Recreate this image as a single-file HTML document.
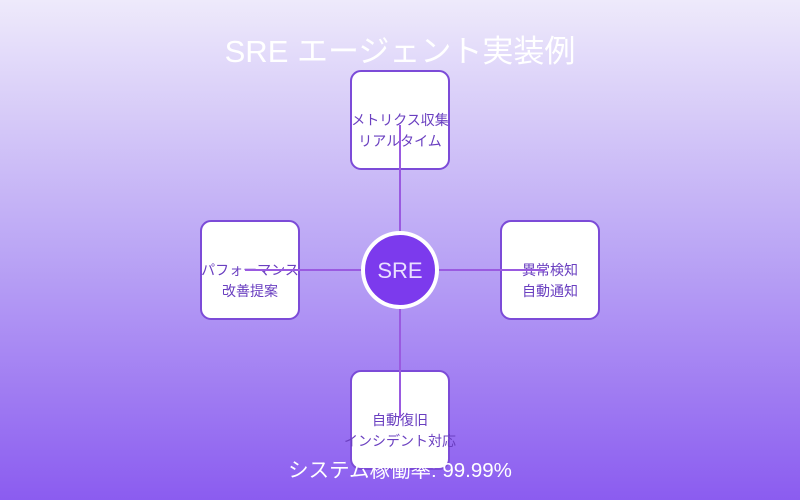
<!DOCTYPE html>
<html><head><meta charset="utf-8"><style>
html,body{margin:0;padding:0;width:800px;height:500px;overflow:hidden}
svg{display:block}
text{font-family:"Liberation Sans","Noto Sans CJK JP",sans-serif}
</style></head><body>
<svg width="800" height="500" viewBox="0 0 800 500">
<defs><linearGradient id="g" x1="0" y1="0" x2="0" y2="1">
<stop offset="0" stop-color="#eeeafb"/><stop offset="0.5" stop-color="#bba6f5"/><stop offset="1" stop-color="#8b5cf0"/></linearGradient></defs>
<rect width="800" height="500" fill="url(#g)"/>
<text x="400" y="62" text-anchor="middle" font-size="31" fill="#ffffff">SRE エージェント実装例</text>
<g fill="#fff" stroke="#7c4bd8" stroke-width="2">
<rect x="351" y="71" width="98" height="98" rx="10"/>
<rect x="201" y="221" width="98" height="98" rx="10"/>
<rect x="501" y="221" width="98" height="98" rx="10"/>
<rect x="351" y="371" width="98" height="98" rx="10"/>
</g>
<g font-size="14" fill="#6a3fc0" text-anchor="middle">
<text x="400" y="125">メトリクス収集</text><text x="400" y="146">リアルタイム</text>
<text x="250" y="275">パフォーマンス</text><text x="250" y="296">改善提案</text>
<text x="550" y="275">異常検知</text><text x="550" y="296">自動通知</text>
<text x="400" y="425">自動復旧</text><text x="400" y="446">インシデント対応</text>
</g>
<g stroke="#9a5ae0" stroke-width="2">
<line x1="400" y1="125" x2="400" y2="232"/>
<line x1="245" y1="270" x2="362" y2="270"/>
<line x1="438" y1="270" x2="545" y2="270"/>
<line x1="400" y1="308" x2="400" y2="418"/>
</g>
<circle cx="400" cy="270" r="37" fill="#7c3aed" stroke="#fff" stroke-width="4"/>
<text x="400" y="278" text-anchor="middle" font-size="22" fill="#e9e0ff">SRE</text>
<text x="400" y="477" text-anchor="middle" font-size="20.5" fill="#ffffff">システム稼働率: 99.99%</text>
</svg>
</body></html>
